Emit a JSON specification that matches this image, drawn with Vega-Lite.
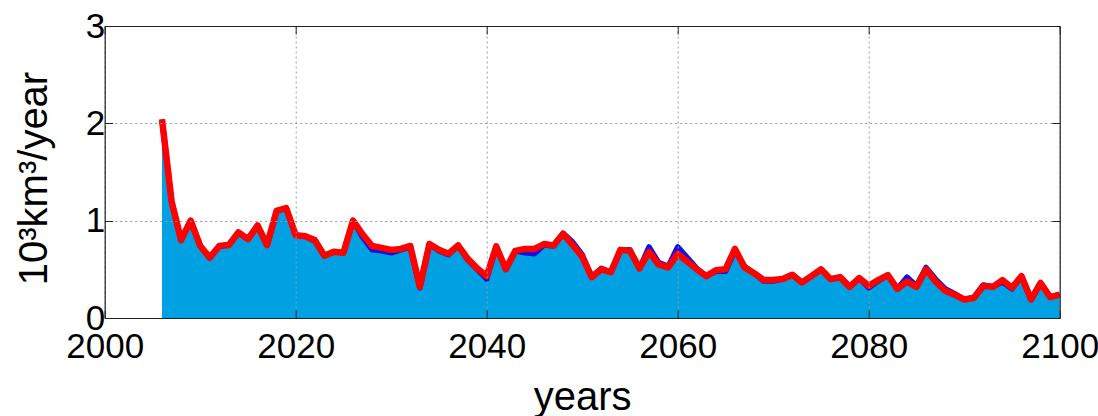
{
  "$schema": "https://vega.github.io/schema/vega-lite/v6.json",
  "autosize": "none",
  "width": 955,
  "height": 292,
  "padding": {"left": 104.7, "top": 26, "right": 38.3, "bottom": 98},
  "background": "white",
  "config": {
    "view": {"stroke": null},
    "font": "Liberation Sans",
    "axis": {"labelFont": "Liberation Sans", "titleFont": "Liberation Sans", "labelColor": "#000", "titleColor": "#000", "titleFontWeight": "normal"}
  },
  "data": {
    "values": [
      {"year": 2006, "blue": 2.04, "red": 2.04},
      {"year": 2007, "blue": 1.2, "red": 1.2},
      {"year": 2008, "blue": 0.8, "red": 0.8},
      {"year": 2009, "blue": 1.0, "red": 1.0},
      {"year": 2010, "blue": 0.74, "red": 0.74},
      {"year": 2011, "blue": 0.62, "red": 0.62},
      {"year": 2012, "blue": 0.74, "red": 0.74},
      {"year": 2013, "blue": 0.75, "red": 0.75},
      {"year": 2014, "blue": 0.88, "red": 0.88},
      {"year": 2015, "blue": 0.81, "red": 0.81},
      {"year": 2016, "blue": 0.95, "red": 0.95},
      {"year": 2017, "blue": 0.75, "red": 0.75},
      {"year": 2018, "blue": 1.1, "red": 1.1},
      {"year": 2019, "blue": 1.13, "red": 1.13},
      {"year": 2020, "blue": 0.85, "red": 0.85},
      {"year": 2021, "blue": 0.84, "red": 0.84},
      {"year": 2022, "blue": 0.79, "red": 0.8},
      {"year": 2023, "blue": 0.64, "red": 0.64},
      {"year": 2024, "blue": 0.68, "red": 0.68},
      {"year": 2025, "blue": 0.67, "red": 0.67},
      {"year": 2026, "blue": 1.0, "red": 1.0},
      {"year": 2027, "blue": 0.83, "red": 0.86},
      {"year": 2028, "blue": 0.7, "red": 0.74},
      {"year": 2029, "blue": 0.69, "red": 0.72},
      {"year": 2030, "blue": 0.67, "red": 0.7},
      {"year": 2031, "blue": 0.7, "red": 0.71},
      {"year": 2032, "blue": 0.73, "red": 0.74},
      {"year": 2033, "blue": 0.31, "red": 0.32},
      {"year": 2034, "blue": 0.76, "red": 0.76},
      {"year": 2035, "blue": 0.69, "red": 0.7},
      {"year": 2036, "blue": 0.65, "red": 0.66},
      {"year": 2037, "blue": 0.745, "red": 0.745},
      {"year": 2038, "blue": 0.6, "red": 0.61},
      {"year": 2039, "blue": 0.5, "red": 0.51},
      {"year": 2040, "blue": 0.4, "red": 0.43},
      {"year": 2041, "blue": 0.735, "red": 0.735},
      {"year": 2042, "blue": 0.5, "red": 0.5},
      {"year": 2043, "blue": 0.69, "red": 0.69},
      {"year": 2044, "blue": 0.67, "red": 0.71},
      {"year": 2045, "blue": 0.66, "red": 0.71},
      {"year": 2046, "blue": 0.75, "red": 0.76},
      {"year": 2047, "blue": 0.74, "red": 0.745},
      {"year": 2048, "blue": 0.87, "red": 0.865},
      {"year": 2049, "blue": 0.78, "red": 0.75},
      {"year": 2050, "blue": 0.65, "red": 0.63},
      {"year": 2051, "blue": 0.42, "red": 0.42},
      {"year": 2052, "blue": 0.51, "red": 0.5},
      {"year": 2053, "blue": 0.47, "red": 0.47},
      {"year": 2054, "blue": 0.7, "red": 0.7},
      {"year": 2055, "blue": 0.7, "red": 0.69},
      {"year": 2056, "blue": 0.51, "red": 0.51},
      {"year": 2057, "blue": 0.73, "red": 0.68},
      {"year": 2058, "blue": 0.57, "red": 0.55},
      {"year": 2059, "blue": 0.53, "red": 0.52},
      {"year": 2060, "blue": 0.73, "red": 0.66},
      {"year": 2061, "blue": 0.62, "red": 0.58},
      {"year": 2062, "blue": 0.51, "red": 0.5},
      {"year": 2063, "blue": 0.43, "red": 0.43},
      {"year": 2064, "blue": 0.48, "red": 0.49},
      {"year": 2065, "blue": 0.48, "red": 0.5},
      {"year": 2066, "blue": 0.69, "red": 0.71},
      {"year": 2067, "blue": 0.53, "red": 0.52},
      {"year": 2068, "blue": 0.46, "red": 0.46},
      {"year": 2069, "blue": 0.38, "red": 0.39},
      {"year": 2070, "blue": 0.38, "red": 0.39},
      {"year": 2071, "blue": 0.4, "red": 0.4},
      {"year": 2072, "blue": 0.445, "red": 0.445},
      {"year": 2073, "blue": 0.365, "red": 0.365},
      {"year": 2074, "blue": 0.43, "red": 0.43},
      {"year": 2075, "blue": 0.5, "red": 0.5},
      {"year": 2076, "blue": 0.4, "red": 0.4},
      {"year": 2077, "blue": 0.42, "red": 0.42},
      {"year": 2078, "blue": 0.32, "red": 0.32},
      {"year": 2079, "blue": 0.41, "red": 0.41},
      {"year": 2080, "blue": 0.31, "red": 0.33},
      {"year": 2081, "blue": 0.38, "red": 0.39},
      {"year": 2082, "blue": 0.44, "red": 0.44},
      {"year": 2083, "blue": 0.3, "red": 0.3},
      {"year": 2084, "blue": 0.42, "red": 0.375},
      {"year": 2085, "blue": 0.33, "red": 0.32},
      {"year": 2086, "blue": 0.52, "red": 0.5},
      {"year": 2087, "blue": 0.4, "red": 0.375},
      {"year": 2088, "blue": 0.3, "red": 0.28},
      {"year": 2089, "blue": 0.25, "red": 0.24},
      {"year": 2090, "blue": 0.19, "red": 0.19},
      {"year": 2091, "blue": 0.21, "red": 0.205},
      {"year": 2092, "blue": 0.34, "red": 0.33},
      {"year": 2093, "blue": 0.32, "red": 0.32},
      {"year": 2094, "blue": 0.37, "red": 0.39},
      {"year": 2095, "blue": 0.3, "red": 0.31},
      {"year": 2096, "blue": 0.43, "red": 0.43},
      {"year": 2097, "blue": 0.19, "red": 0.19},
      {"year": 2098, "blue": 0.36, "red": 0.36},
      {"year": 2099, "blue": 0.215, "red": 0.215},
      {"year": 2100, "blue": 0.24, "red": 0.24}
    ]
  },
  "resolve": {"axis": {"x": "independent", "y": "independent"}},
  "layer": [
    {
      "mark": {"type": "area", "color": "#00A1E3", "opacity": 1},
      "encoding": {
        "x": {"field": "year", "type": "quantitative",
          "scale": {"domain": [2000, 2100], "nice": false, "zero": false},
          "axis": {"orient": "bottom", "values": [2000, 2020, 2040, 2060, 2080, 2100], "format": "d",
            "labelFontSize": 35, "labelPadding": 19, "labelFlush": false, "labelOverlap": false,
            "tickSize": -8, "tickColor": "#222", "domainColor": "#222", "domainWidth": 1.2,
            "grid": true, "gridDash": [2, 3], "gridColor": "#9a9a9a", "gridWidth": 1,
            "title": "years", "titleFontSize": 40, "titlePadding": 13, "zindex": 1}},
        "y": {"field": "blue", "type": "quantitative",
          "scale": {"domain": [0, 3], "nice": false},
          "axis": {"orient": "left", "values": [0, 1, 2, 3], "labelFontSize": 35, "labelPadding": 8,
            "labelFlush": false, "labelOverlap": false,
            "tickSize": -8, "tickColor": "#222", "domainColor": "#222", "domainWidth": 1.2,
            "grid": true, "gridDash": [2, 3], "gridColor": "#9a9a9a", "gridWidth": 1,
            "title": "10³km³/year", "titleFontSize": 40, "titleAngle": -90,
            "titleBaseline": "alphabetic", "titleX": -58, "titleY": 152, "zindex": 1}}
      }
    },
    {
      "mark": {"type": "line", "color": "#1010E0", "strokeWidth": 5.5, "strokeJoin": "round"},
      "encoding": {
        "x": {"field": "year", "type": "quantitative", "axis": null},
        "y": {"field": "blue", "type": "quantitative", "axis": null}
      }
    },
    {
      "mark": {"type": "line", "color": "#FF0000", "strokeWidth": 6.5, "strokeJoin": "round"},
      "encoding": {
        "x": {"field": "year", "type": "quantitative",
          "axis": {"orient": "top", "values": [2000, 2020, 2040, 2060, 2080, 2100], "labels": false,
            "tickSize": -8, "tickColor": "#222", "domainColor": "#222", "domainWidth": 1.2,
            "grid": false, "title": null, "zindex": 1}},
        "y": {"field": "red", "type": "quantitative",
          "axis": {"orient": "right", "values": [0, 1, 2, 3], "labels": false,
            "tickSize": -8, "tickColor": "#222", "domainColor": "#222", "domainWidth": 1.2,
            "grid": false, "title": null, "zindex": 1}}
      }
    }
  ]
}
